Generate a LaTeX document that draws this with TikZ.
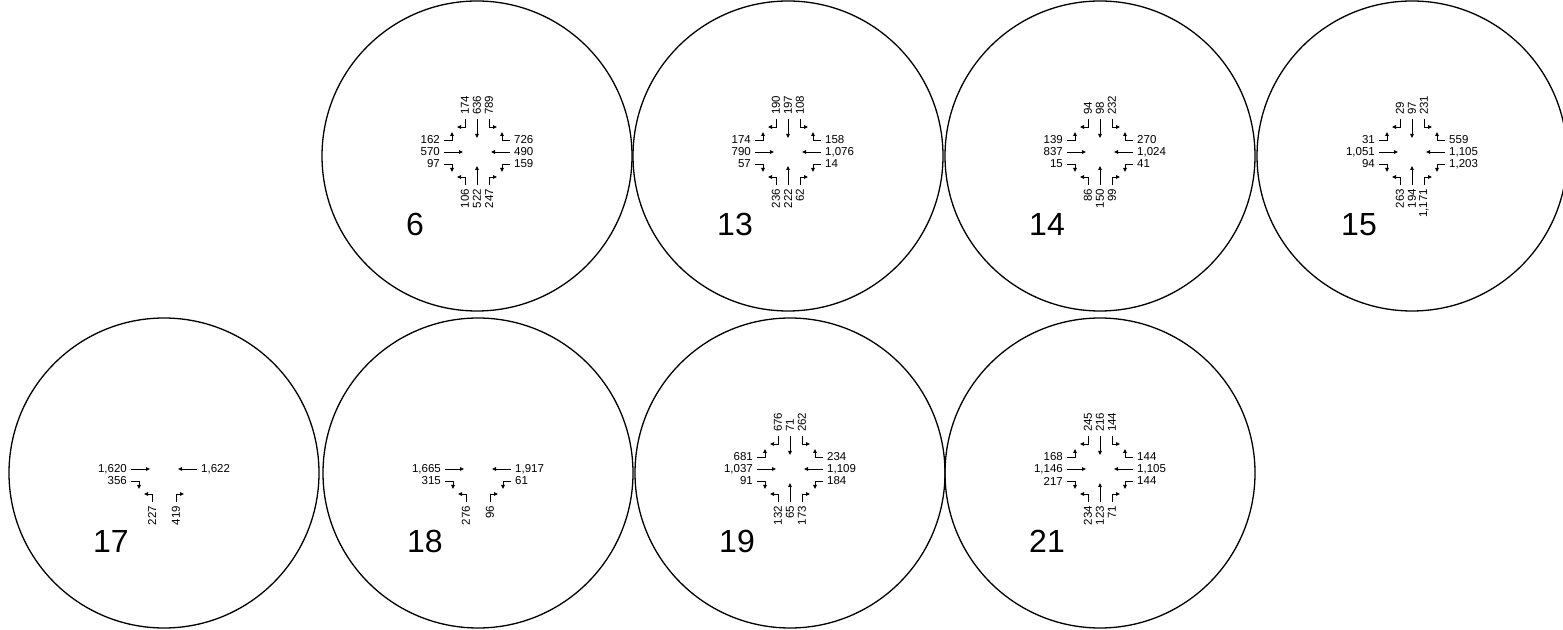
\documentclass[tikz,border=0pt]{standalone}
\usepackage{fontspec}
\setmainfont{Liberation Sans}
\usetikzlibrary{arrows.meta}

\tikzset{
  ring/.style={line width=1.3pt},
  flow/.style={line width=0.9pt, -{Triangle[length=4pt, width=3.6pt]}},
  vol/.style={font=\fontsize{11.5}{12}\selectfont, inner sep=0pt},
  site/.style={font=\fontsize{32}{32}\selectfont, inner sep=0pt, anchor=base west},
}
\def\nolane{x}
% one approach: angle, lane sign, label rotation, label anchor, side, volumes
\newcommand{\approach}[6]{%
  \foreach \v [count=\i] in {#6} {%
    \edef\lanev{\v}%
    \ifx\lanev\nolane\else
      \pgfmathsetmacro\off{12*(2-\i)*#2}%
      \pgfmathsetmacro\bend{20*(2-\i)*#2}%
      \ifnum\i=2
        \draw[flow, rotate=#1] (-33,0) -- (-14,0);
      \else
        \draw[flow, rotate=#1] (-33,\off) -- (-25,\off) -- (-25,\bend);
      \fi
      \path[rotate=#1] (-37,\off) node[vol, rotate=#3, anchor=#4] (v\junc#5\i) {\v};
    \fi}}
% one count site: centre, number, volumes W N E S
\newcommand{\junction}[7]{%
  \begin{scope}[shift={(#1,#2)}]
    \def\junc{#3}%
    \draw[ring] (0,-4) circle[radius=155pt];
    \approach{0}{1}{0}{east}{W}{#4}
    \approach{-90}{-1}{90}{west}{N}{#5}
    \approach{180}{-1}{0}{west}{E}{#6}
    \approach{90}{1}{90}{east}{S}{#7}
    \node[site] (site#3) at (-71,-84) {#3};
  \end{scope}}

\begin{document}
\begin{tikzpicture}[x=1pt, y=1pt]
  \useasboundingbox (0,0) rectangle (1563,629);
  % top row
  \junction{477}{477}{6}{162,570,97}{174,636,789}{726,490,159}{106,522,247}
  \junction{788}{477}{13}{174,790,57}{190,197,108}{158,1{,}076,14}{236,222,62}
  \junction{1100}{477}{14}{139,837,15}{94,98,232}{270,1{,}024,41}{86,150,99}
  \junction{1412}{477}{15}{31,1{,}051,94}{29,97,231}{559,1{,}105,1{,}203}{263,194,1{,}171}
  % bottom row
  \junction{164}{160}{17}{x,1{,}620,356}{x,x,x}{x,1{,}622,x}{227,x,419}
  \junction{478}{160}{18}{x,1{,}665,315}{x,x,x}{x,1{,}917,61}{276,x,96}
  \junction{790}{160}{19}{681,1{,}037,91}{676,71,262}{234,1{,}109,184}{132,65,173}
  \junction{1100}{160}{21}{168,1{,}146,217}{245,216,144}{144,1{,}105,144}{234,123,71}
\end{tikzpicture}
\end{document}
